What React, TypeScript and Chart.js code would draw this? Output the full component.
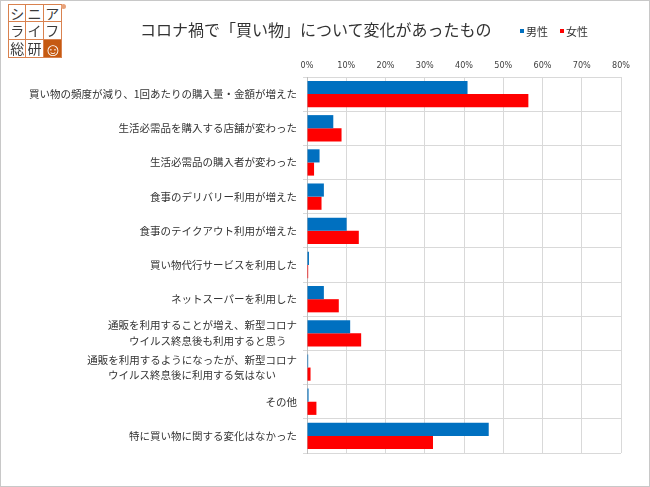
import React, { useEffect, useRef } from "react";
import { Chart, registerables } from "chart.js";

Chart.register(...registerables);

const titleText = "コロナ禍で「買い物」について変化があったもの";
const seriesNames = ["男性", "女性"];
const seriesColors = ["#0070C0", "#FF0000"];

const categories: (string | string[])[] = [
  "買い物の頻度が減り、1回あたりの購入量・金額が増えた",
  "生活必需品を購入する店舗が変わった",
  "生活必需品の購入者が変わった",
  "食事のデリバリー利用が増えた",
  "食事のテイクアウト利用が増えた",
  "買い物代行サービスを利用した",
  "ネットスーパーを利用した",
  ["通販を利用することが増え、新型コロナ", "ウイルス終息後も利用すると思う"],
  ["通販を利用するようになったが、新型コロナ", "ウイルス終息後に利用する気はない"],
  "その他",
  "特に買い物に関する変化はなかった",
];

const maleValues = [40.9, 6.7, 3.2, 4.3, 10.1, 0.5, 4.3, 11.0, 0.3, 0.4, 46.3];
const femaleValues = [56.4, 8.8, 1.8, 3.7, 13.2, 0.3, 8.1, 13.8, 0.9, 2.4, 32.1];

const xMin = 0;
const xMax = 80;
const xStep = 10;

const logoCells = ["シ", "ニ", "ア", "ラ", "イ", "フ", "総", "研", "☺"];

// center the lines of a multi-line label inside a right-aligned block
function centerLines(label: string | string[]): string | string[] {
  if (!Array.isArray(label)) return label;
  const maxLen = Math.max(...label.map((l) => l.length));
  return label.map((l) => l + "\u3000".repeat(Math.floor((maxLen - l.length) / 2)));
}

export default function App() {
  const canvasRef = useRef<HTMLCanvasElement | null>(null);

  useEffect(() => {
    const canvas = canvasRef.current;
    if (!canvas) return;
    const chart = new Chart(canvas, {
      type: "bar",
      data: {
        labels: categories,
        datasets: [
          {
            label: seriesNames[0],
            data: maleValues,
            backgroundColor: seriesColors[0],
            categoryPercentage: 0.77,
            barPercentage: 1.0,
          },
          {
            label: seriesNames[1],
            data: femaleValues,
            backgroundColor: seriesColors[1],
            categoryPercentage: 0.77,
            barPercentage: 1.0,
          },
        ],
      },
      options: {
        indexAxis: "y",
        responsive: false,
        animation: false,
        layout: { padding: { left: 0, top: 0, right: 29, bottom: 34 } },
        plugins: {
          legend: { display: false },
          title: { display: false },
          tooltip: { enabled: false },
        },
        scales: {
          x: {
            position: "top",
            min: xMin,
            max: xMax,
            grid: { color: "#d9d9d9", tickLength: 0, lineWidth: 1 },
            border: { color: "#d9d9d9" },
            ticks: {
              stepSize: xStep,
              padding: 6,
              color: "#404040",
              font: { family: "'Liberation Sans Narrow', 'DejaVu Sans Condensed', sans-serif", size: 9 },
              callback: (v: any) => v + "%",
            },
            afterFit: (scale: any) => {
              scale.height = 77;
            },
          },
          y: {
            grid: { color: "#d9d9d9", tickLength: 4, offset: true },
            border: { color: "#bfbfbf" },
            ticks: {
              autoSkip: false,
              padding: 6,
              color: "#333333",
              font: { family: "'Noto Sans CJK JP', sans-serif", size: 10.5, lineHeight: 1.5 },
              callback: (_v: any, i: number) => centerLines(categories[i]),
            },
            afterFit: (scale: any) => {
              scale.width = 307;
            },
          },
        },
      },
    });
    return () => chart.destroy();
  }, []);

  return (
    <div style={{ position: "absolute", left: 0, top: 0, width: 650, height: 487, background: "#fff" }}>
      <canvas ref={canvasRef} width={650} height={487} style={{ position: "absolute", left: 0, top: 0 }} />
      {/* frame */}
      <div
        style={{
          position: "absolute",
          left: 0,
          top: 0,
          width: 650,
          height: 487,
          boxSizing: "border-box",
          border: "1px solid #c8c8c8",
          pointerEvents: "none",
        }}
      />
      {/* logo */}
      <div
        style={{
          position: "absolute",
          left: 8,
          top: 4,
          width: 54,
          height: 54,
          display: "grid",
          gridTemplateColumns: "repeat(3, 1fr)",
          gridTemplateRows: "repeat(3, 1fr)",
          boxSizing: "border-box",
          border: "1px solid #d9824f",
          fontFamily: "'Noto Sans CJK JP', sans-serif",
        }}
      >
        {logoCells.map((c, i) => (
          <div
            key={i}
            style={{
              boxSizing: "border-box",
              borderRight: i % 3 < 2 ? "1px solid #d9824f" : "none",
              borderBottom: i < 6 ? "1px solid #d9824f" : "none",
              background: i === 8 ? "#c55a11" : "#fff",
              color: i === 8 ? "#fff" : "#3a3a3a",
              fontSize: i === 8 ? 18 : 14,
              lineHeight: "17px",
              textAlign: "center",
              overflow: "hidden",
            }}
          >
            {c}
          </div>
        ))}
      </div>
      <div
        style={{
          position: "absolute",
          left: 61,
          top: 4,
          width: 5,
          height: 5,
          borderRadius: "50%",
          background: "#e8a27a",
        }}
      />
      {/* title */}
      <div
        style={{
          position: "absolute",
          left: 140,
          top: 18,
          fontFamily: "'Noto Sans CJK JP', sans-serif",
          fontSize: 16,
          lineHeight: "22px",
          color: "#333",
          whiteSpace: "nowrap",
        }}
      >
        {titleText}
      </div>
      {/* legend */}
      {seriesNames.map((name, i) => (
        <div
          key={name}
          style={{
            position: "absolute",
            left: 520 + i * 40,
            top: 24,
            display: "flex",
            alignItems: "center",
            fontFamily: "'Noto Sans CJK JP', sans-serif",
            fontSize: 11,
            lineHeight: "14px",
            color: "#333",
            whiteSpace: "nowrap",
          }}
        >
          <span style={{ display: "inline-block", width: 4, height: 4, background: seriesColors[i], marginRight: 2 }} />
          {name}
        </div>
      ))}
    </div>
  );
}
